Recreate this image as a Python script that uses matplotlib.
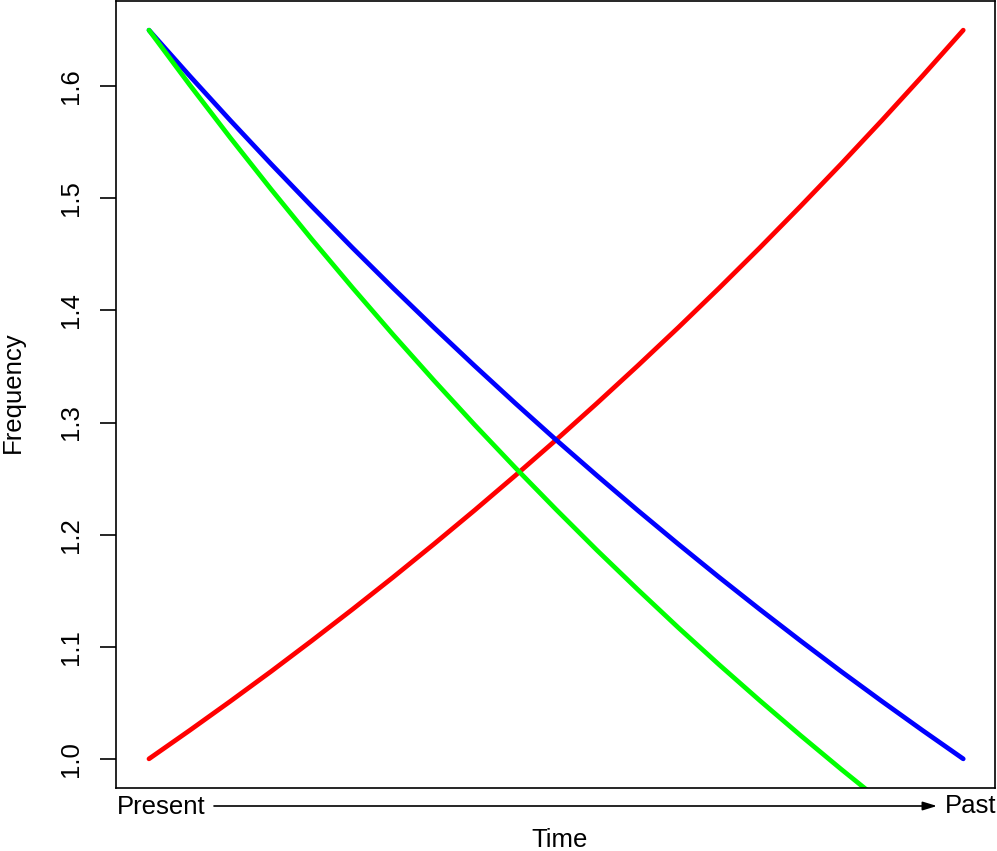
import matplotlib
matplotlib.use("Agg")
import matplotlib.pyplot as plt

plt.rcParams['font.family'] = ['Liberation Sans', 'DejaVu Sans']

t = [0.00, 0.05, 0.10, 0.15, 0.20, 0.25, 0.30, 0.35, 0.40, 0.45, 0.50,
     0.55, 0.60, 0.65, 0.70, 0.75, 0.80, 0.85, 0.90, 0.95, 1.00]
red = [1.000, 1.0254, 1.0514, 1.0780, 1.1054, 1.1334, 1.1621, 1.1916, 1.2218, 1.2528, 1.2845,
       1.3171, 1.3505, 1.3847, 1.4198, 1.4558, 1.4928, 1.5306, 1.5694, 1.6092, 1.650]
blue = red[::-1]
t_green = t[:19]
green = [1.650, 1.6012, 1.5539, 1.5080, 1.4634, 1.4202, 1.3782, 1.3375, 1.2979, 1.2596, 1.2224,
         1.1862, 1.1512, 1.1171, 1.0841, 1.0521, 1.0210, 0.9908, 0.9615]
yticks = [1.0, 1.1, 1.2, 1.3, 1.4, 1.5, 1.6]

FS = 18.5
W, H = 997, 851
fig = plt.figure(figsize=(W / 100, H / 100), dpi=100)
ax = fig.add_axes([116 / W, 1 - 788 / H, (995 - 116) / W, (788 - 1) / H])

ax.plot(t, red, color='#FF0000', lw=3.4, solid_capstyle='round')
ax.plot(t, blue, color='#0000FF', lw=3.4, solid_capstyle='round')
ax.plot(t_green, green, color='#00FF00', lw=3.4, solid_capstyle='round')

ax.set_xlim(-0.0405, 1.039)
ax.set_ylim(0.974, 1.676)
ax.set_xticks([])
ax.set_yticks(yticks)
ax.set_yticklabels([f"{v:.1f}" for v in yticks], rotation=90, va='center', fontsize=FS)
ax.tick_params(axis='y', length=11.5, width=1.2, pad=12)
for s in ax.spines.values():
    s.set_linewidth(1.2)

fig.text(13 / W, 1 - 392 / H, "Frequency", fontsize=FS, rotation=90, ha='center', va='center')

# Present -> Past arrow under the axis
fig.text(117 / W, 1 - 807 / H, "Present", fontsize=FS, ha='left', va='center')
fig.text(996 / W, 1 - 806 / H, "Past", fontsize=FS, ha='right', va='center')
fig.add_artist(matplotlib.patches.FancyArrowPatch(
    (214 / W, 1 - 806 / H), (937 / W, 1 - 806 / H),
    transform=fig.transFigure, arrowstyle='-|>,head_length=8.5,head_width=2.6',
    color='black', lw=1.2, mutation_scale=1, shrinkA=0, shrinkB=0))
fig.text(560 / W, 1 - 840 / H, "Time", fontsize=FS, ha='center', va='center')

fig.savefig("out.png", dpi=100)
